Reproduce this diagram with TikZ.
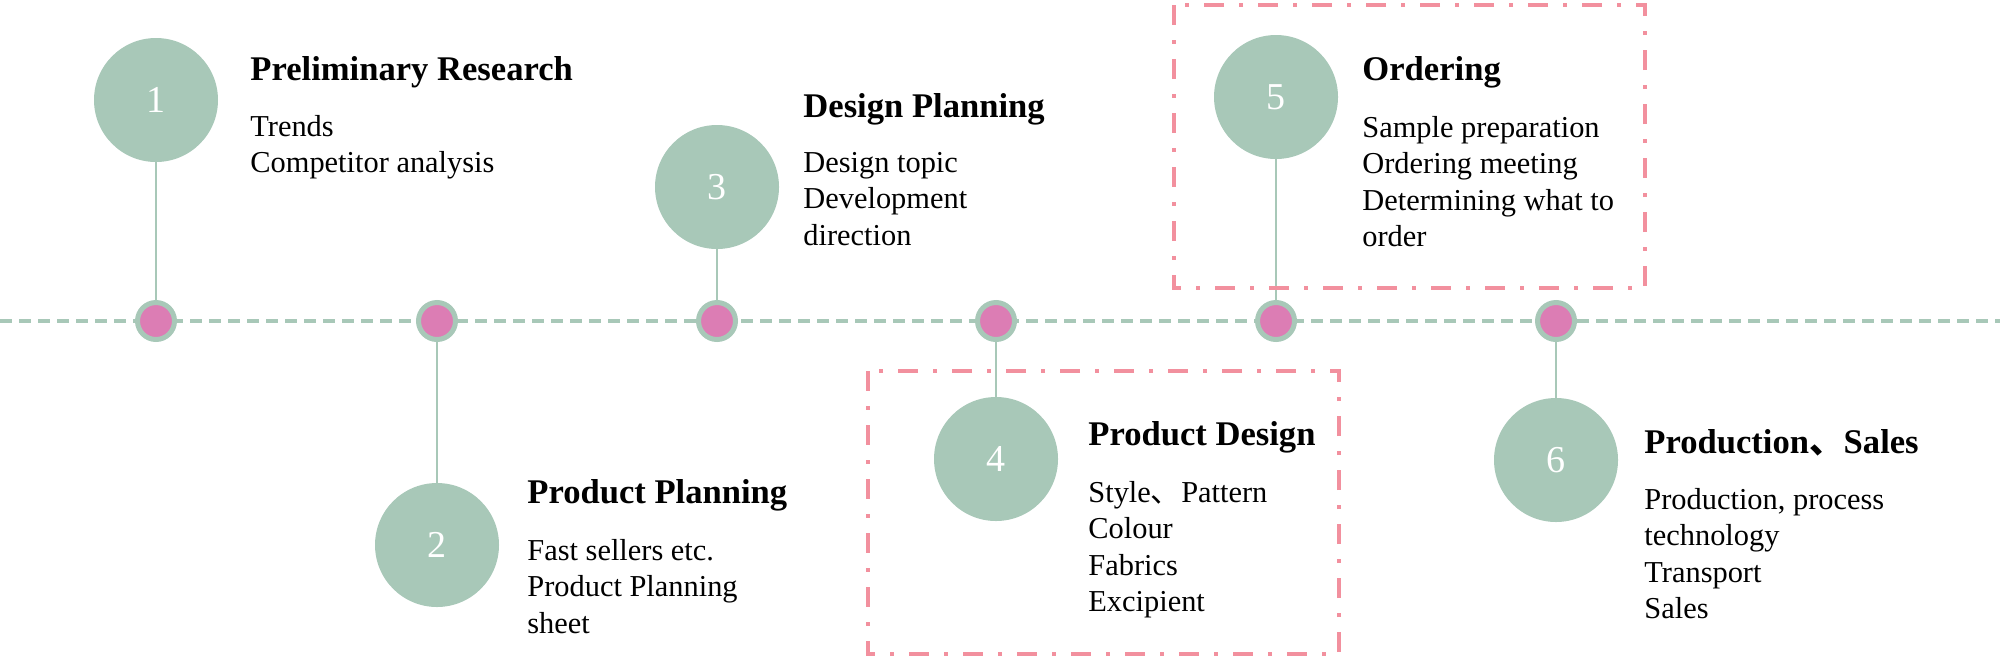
\documentclass[tikz,border=0pt]{standalone}
\usepackage{fontspec}
\setmainfont{Liberation Serif}
\newfontfamily\cjk{Noto Sans CJK SC}
\definecolor{sage}{HTML}{A8C8B8}
\definecolor{rose}{HTML}{DC7DB4}
\definecolor{blush}{HTML}{F2909E}
\newcommand\steplines[1]{\begin{tabular}[t]{@{}l@{}}#1\end{tabular}}

\begin{document}
\begin{tikzpicture}[x=0.5pt, y=-0.5pt,
  main/.style = {circle, fill=sage, minimum size=62pt, inner sep=0pt, text=white, font=\fontsize{19}{19}\selectfont},
  dot/.style = {circle, fill=rose, draw=sage, line width=2.5pt, minimum size=18.5pt, inner sep=0pt},
  title/.style = {anchor=base west, inner sep=0pt, font=\fontsize{17.3}{20}\selectfont\bfseries},
  body/.style = {anchor=base west, inner sep=0pt, font=\fontsize{15.2}{18.25}\selectfont},
  link/.style = {draw=sage, line width=1.2pt},
  box/.style = {draw=blush, line width=2pt, dash pattern=on 10pt off 7.5pt on 2pt off 7.5pt}]
\useasboundingbox (0,0) rectangle (2000,660);
\coordinate (left) at (0,321);
\coordinate (right) at (2000,321);
\draw[sage, line width=2pt, dash pattern=on 6pt off 3.5pt] (left) -- (right);

\node[main] (1) at (156,100) {1};
\node[main] (2) at (437,545) {2};
\node[main] (3) at (717,187) {3};
\node[main] (4) at (996,459) {4};
\node[main] (5) at (1276,97) {5};
\node[main] (6) at (1556,460) {6};

\node[dot] (d1) at (156,321) {};
\node[dot] (d2) at (437,321) {};
\node[dot] (d3) at (717,321) {};
\node[dot] (d4) at (996,321) {};
\node[dot] (d5) at (1276,321) {};
\node[dot] (d6) at (1556,321) {};

\draw[link] (1) -- (d1);
\draw[link] (2) -- (d2);
\draw[link] (3) -- (d3);
\draw[link] (4) -- (d4);
\draw[link] (5) -- (d5);
\draw[link] (6) -- (d6);

\node[title] (t1) at (250,80) {Preliminary Research};
\node[body] (b1) at (250,136) {\steplines{Trends\\Competitor analysis}};
\node[title] (t2) at (527,503) {Product Planning};
\node[body] (b2) at (527,560) {\steplines{Fast sellers etc.\\Product Planning\\sheet}};
\node[title] (t3) at (803,117) {Design Planning};
\node[body] (b3) at (803,172) {\steplines{Design topic\\Development\\direction}};
\node[title] (t4) at (1088,445) {Product Design};
\node[body] (b4) at (1088,502) {\steplines{Style{\cjk 、}Pattern\\Colour\\Fabrics\\Excipient}};
\node[title] (t5) at (1362,80) {Ordering};
\node[body] (b5) at (1362,137) {\steplines{Sample preparation\\Ordering meeting\\Determining what to\\order}};
\node[title] (t6) at (1644,453) {Production{\cjk 、}Sales};
\node[body] (b6) at (1644,509) {\steplines{Production, process\\technology\\Transport\\Sales}};

\draw[box] (868,371) rectangle (1339,654);
\draw[box] (1174,5) rectangle (1645,288);
\end{tikzpicture}
\end{document}
